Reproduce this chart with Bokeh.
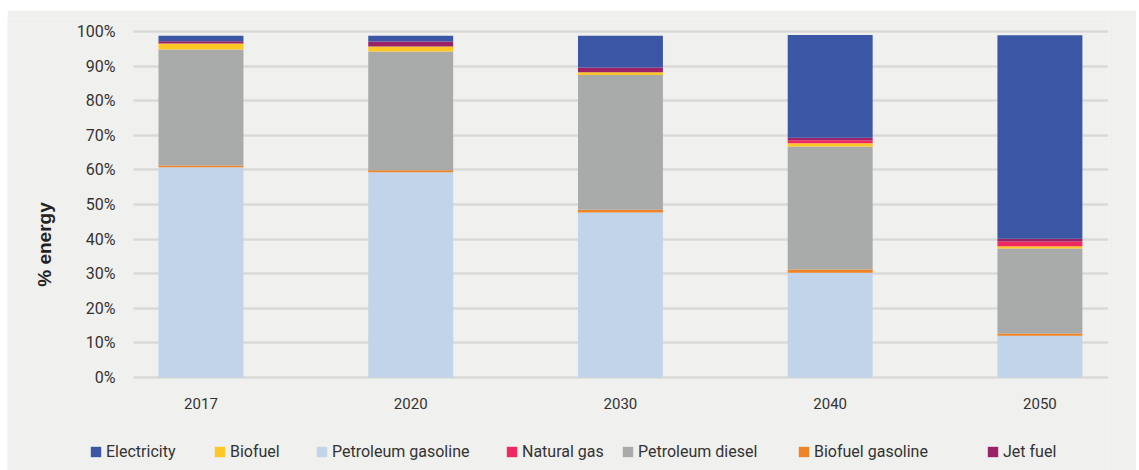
from bokeh.plotting import figure
from bokeh.models import (ColumnDataSource, Range1d, FixedTicker, Legend, LegendItem,
                          BoxAnnotation)
from bokeh.embed import file_html
from bokeh.resources import INLINE

# ---- data ----
years = ["2017", "2020", "2030", "2040", "2050"]
petroleum_gasoline = [60.8, 59.3, 47.7, 30.3, 12.1]
biofuel_gasoline = [0.5, 0.6, 0.8, 0.9, 0.6]
petroleum_diesel = [33.5, 34.3, 38.9, 35.6, 24.6]
biofuel = [1.7, 1.5, 0.8, 0.9, 0.6]
natural_gas = [0.0, 0.0, 0.0, 0.9, 1.4]
jet_fuel = [0.7, 1.4, 1.4, 0.7, 0.8]
electricity = [1.6, 1.7, 9.2, 29.7, 58.8]

y_ticks = [0, 10, 20, 30, 40, 50, 60, 70, 80, 90, 100]
y_labels = ["0%", "10%", "20%", "30%", "40%", "50%", "60%", "70%", "80%", "90%", "100%"]

stack_keys = ["Petroleum gasoline", "Biofuel gasoline", "Petroleum diesel",
              "Biofuel", "Natural gas", "Jet fuel", "Electricity"]
colors = {
    "Electricity": "#3A56A5",
    "Biofuel": "#FFC726",
    "Petroleum gasoline": "#C2D4EA",
    "Natural gas": "#EE2A61",
    "Petroleum diesel": "#A8ABAA",
    "Biofuel gasoline": "#EE8427",
    "Jet fuel": "#9B2268",
}
legend_order = ["Electricity", "Biofuel", "Petroleum gasoline", "Natural gas",
                "Petroleum diesel", "Biofuel gasoline", "Jet fuel"]
legend_x = [82, 206, 308, 498, 614, 790, 979]

FONT = "Roboto"
BG = "#F0F0EE"
TXT = "#333333"

xs = list(range(len(years)))
source = ColumnDataSource(dict(
    x=xs,
    **{
        "Petroleum gasoline": petroleum_gasoline,
        "Biofuel gasoline": biofuel_gasoline,
        "Petroleum diesel": petroleum_diesel,
        "Biofuel": biofuel,
        "Natural gas": natural_gas,
        "Jet fuel": jet_fuel,
        "Electricity": electricity,
    }
))

X_LEFT = -0.322                       # left end of the gridded plot area
X_RIGHT = len(years) - 1 + 0.327      # right end of the gridded plot area

p = figure(width=1129, height=460, output_backend="svg", toolbar_location=None,
           x_range=Range1d(X_LEFT - 0.6005, X_RIGHT),
           y_range=Range1d(-26.88, 103.76),
           min_border_left=0, min_border_right=28, min_border_top=8,
           min_border_bottom=0)
p.margin = (10, 3, 0, 7)
p.background_fill_color = BG
p.border_fill_color = BG
p.outline_line_color = None

renderers = p.vbar_stack(stack_keys, x="x", width=0.405, source=source,
                         color=[colors[k] for k in stack_keys], line_width=0)
rmap = dict(zip(stack_keys, renderers))

p.xaxis.fixed_location = 0
p.yaxis.fixed_location = X_LEFT
p.xaxis.ticker = FixedTicker(ticks=xs)
p.xaxis.major_label_overrides = {i: y for i, y in enumerate(years)}
p.yaxis.ticker = FixedTicker(ticks=y_ticks)
p.yaxis.major_label_overrides = {t: l for t, l in zip(y_ticks, y_labels)}
for ax in (p.xaxis[0], p.yaxis[0]):
    ax.axis_line_color = None
    ax.major_tick_line_color = None
    ax.minor_tick_line_color = None
    ax.major_label_text_font = FONT
    ax.major_label_text_color = TXT
p.xaxis.major_label_text_font_size = "15px"
p.xaxis.major_label_standoff = 15
p.yaxis.major_label_text_font_size = "16px"
p.yaxis.major_label_standoff = 12
p.yaxis.axis_label = "% energy"
p.yaxis.axis_label_text_font = "Liberation Sans"
p.yaxis.axis_label_text_font_style = "bold"
p.yaxis.axis_label_text_font_size = "19px"
p.yaxis.axis_label_text_color = "#222222"
p.yaxis.axis_label_standoff = 19

p.xgrid.grid_line_color = None
yg = p.ygrid[0]
yg.grid_line_color = "#D9D9D7"
yg.grid_line_width = 2.5
if "cross_bounds" in yg.properties():
    yg.cross_bounds = (X_LEFT, X_RIGHT)
else:
    p.add_layout(BoxAnnotation(right=X_LEFT, fill_color=BG, fill_alpha=1,
                               line_color=None, level="underlay"))

for name, lx in zip(legend_order, legend_x):
    lg = Legend(items=[LegendItem(label=name, renderers=[rmap[name]])],
                location=(lx, 9), orientation="horizontal",
                glyph_width=13, glyph_height=13, label_standoff=4,
                label_height=16,
                padding=0, margin=0, spacing=0,
                border_line_color=None, background_fill_alpha=0,
                label_text_font=FONT, label_text_font_size="16px",
                label_text_color=TXT)
    p.add_layout(lg, "center")

open("out.html", "w").write(file_html(p, INLINE))
